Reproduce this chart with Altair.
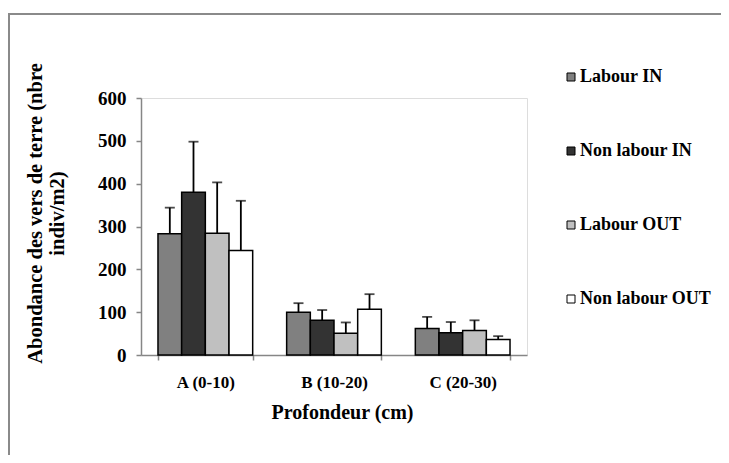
import altair as alt
import pandas as pd

categories = ["A (0-10)", "B (10-20)", "C (20-30)"]
series = ["Labour IN", "Non labour IN", "Labour OUT", "Non labour OUT"]
colors = ["#808080", "#333333", "#c0c0c0", "#ffffff"]

labour_in = [283, 100, 62]
non_labour_in = [380, 81, 52]
labour_out = [284, 51, 57]
non_labour_out = [244, 107, 36]

err_labour_in = [61, 21, 27]
err_non_labour_in = [118, 24, 25]
err_labour_out = [119, 25, 24]
err_non_labour_out = [116, 35, 8]

y_ticks = [0, 100, 200, 300, 400, 500, 600]

rows = []
for s, vals, errs in zip(series,
                         [labour_in, non_labour_in, labour_out, non_labour_out],
                         [err_labour_in, err_non_labour_in, err_labour_out, err_non_labour_out]):
    for c, v, e in zip(categories, vals, errs):
        rows.append({"cat": c, "serie": s, "value": v, "upper": v + e})
df = pd.DataFrame(rows)

FONT = "Liberation Serif"

x_enc = alt.X(
    "cat:N", sort=categories, title="Profondeur (cm)",
    scale=alt.Scale(paddingInner=0.264, paddingOuter=0.132),
    axis=alt.Axis(
        labelAngle=0, labelFont=FONT, labelFontSize=17, labelFontWeight="bold",
        labelColor="black", labelPadding=14, tickBand="extent", tickSize=5,
        tickColor="#868686", domainColor="#868686", domainWidth=1.5, tickWidth=1.5,
        titleFont=FONT, titleFontSize=20, titleFontWeight="bold", titleColor="black",
        titleX=201, titleY=57, titleBaseline="middle",
    ),
)
xo_enc = alt.XOffset("serie:N", sort=series, scale=alt.Scale(paddingInner=0, paddingOuter=0))

y_enc = alt.Y(
    "value:Q", title=["Abondance des vers de terre (nbre", "indiv/m2)"],
    scale=alt.Scale(domain=[0, 600], nice=False),
    axis=alt.Axis(
        values=y_ticks, grid=False, labelFont=FONT, labelFontSize=19,
        labelFontWeight="bold", labelColor="black", labelPadding=10, tickSize=5,
        tickColor="#868686", domainColor="#868686", domainWidth=1.5, tickWidth=1.5,
        titleFont=FONT, titleFontSize=20.5, titleFontWeight="bold", titleColor="black",
        titleLineHeight=22, titleX=-106, titleY=115, titleBaseline="middle",
        titleAngle=270,
    ),
)

color_enc = alt.Color(
    "serie:N", sort=series,
    scale=alt.Scale(domain=series, range=colors),
    legend=alt.Legend(
        title=None, orient="none", legendX=421, legendY=-30, direction="vertical",
        symbolType="square", symbolSize=64, symbolStrokeColor="black",
        symbolStrokeWidth=1, symbolOpacity=1, labelFont=FONT, labelFontSize=18,
        labelFontWeight="bold", labelColor="black", labelOffset=0, rowPadding=56,
    ),
)

base = alt.Chart(df)

bars = base.mark_bar(stroke="black", strokeWidth=1.5, opacity=1).encode(
    x=x_enc, xOffset=xo_enc, y=y_enc, color=color_enc
)

err_rule = base.mark_rule(color="black", strokeWidth=1.8).encode(
    x=alt.X("cat:N", sort=categories), xOffset=xo_enc,
    y=alt.Y("value:Q"), y2=alt.Y2("upper:Q"),
)

err_cap = base.mark_tick(color="black", thickness=1.8, size=10).encode(
    x=alt.X("cat:N", sort=categories), xOffset=xo_enc,
    y=alt.Y("upper:Q"),
)

frame_top = alt.Chart(pd.DataFrame({"k": [0]})).mark_rule(
    color="#8a8a8a", strokeWidth=2, clip=False
).encode(x=alt.value(-133), x2=alt.value(620), y=alt.value(-84))

frame_left = alt.Chart(pd.DataFrame({"k": [0]})).mark_rule(
    color="#8a8a8a", strokeWidth=2, clip=False
).encode(x=alt.value(-132), y=alt.value(-84), y2=alt.value(400))

chart = alt.layer(frame_top, frame_left, bars, err_rule, err_cap).properties(
    width=386, height=257,
    autosize=alt.AutoSizeParams(type="none"),
    padding={"left": 133, "top": 90, "right": 194, "bottom": 100},
).configure_view(stroke=None).configure(background="white", font=FONT).configure_axis(
    labelFont=FONT, titleFont=FONT
).configure_legend(labelFont=FONT)

chart.save("out.html", embed_options={"renderer": "svg", "actions": False})
